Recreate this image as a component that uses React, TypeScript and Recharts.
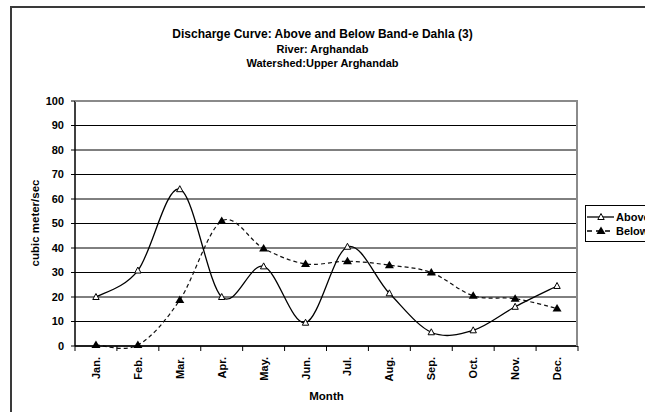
import React from 'react';
import { LineChart, Line, XAxis, YAxis, CartesianGrid } from 'recharts';

const months = ['Jan.', 'Feb.', 'Mar.', 'Apr.', 'May.', 'Jun.', 'Jul.', 'Aug.', 'Sep.', 'Oct.', 'Nov.', 'Dec.'];
const aboveValues = [20, 30.8, 64, 20, 32.5, 9.5, 40.5, 21.5, 5.6, 6.4, 16, 24.5];
const belowValues = [0.4, 0.4, 18.8, 51, 39.8, 33.5, 34.6, 33, 30, 20.5, 19.3, 15.3];
const yTicks = [0, 10, 20, 30, 40, 50, 60, 70, 80, 90, 100];

const data = months.map((month, i) => ({ month, above: aboveValues[i], below: belowValues[i] }));

const FONT = '"Liberation Sans", Arial, sans-serif';

// excel-style smoothing (bezier through points, 1/6 tangents)
const excelCurve = (context: any) => {
  let pts: number[][] = [];
  return {
    areaStart() {},
    areaEnd() {},
    lineStart() {
      pts = [];
    },
    point(x: number, y: number) {
      pts.push([+x, +y]);
    },
    lineEnd() {
      const n = pts.length;
      if (!n) return;
      context.moveTo(pts[0][0], pts[0][1]);
      for (let i = 0; i < n - 1; i++) {
        const p0 = pts[i - 1] || pts[i];
        const p1 = pts[i];
        const p2 = pts[i + 1];
        const p3 = pts[i + 2] || p2;
        context.bezierCurveTo(
          p1[0] + (p2[0] - p0[0]) / 6,
          p1[1] + (p2[1] - p0[1]) / 6,
          p2[0] - (p3[0] - p1[0]) / 6,
          p2[1] - (p3[1] - p1[1]) / 6,
          p2[0],
          p2[1]
        );
      }
    },
  };
};

const openTriangle = (props: any) => {
  const { cx, cy, index } = props;
  return (
    <path
      key={`a-${index}`}
      d={`M${cx},${cy - 3.5} L${cx + 3.2},${cy + 2.5} L${cx - 3.2},${cy + 2.5} Z`}
      fill="#fff"
      stroke="#000"
      strokeWidth={1}
    />
  );
};

const filledTriangle = (props: any) => {
  const { cx, cy, index } = props;
  return (
    <path
      key={`b-${index}`}
      d={`M${cx},${cy - 4.5} L${cx + 4.5},${cy + 3} L${cx - 4.5},${cy + 3} Z`}
      fill="#000"
    />
  );
};

const HALF_BAND = 503 / 24;

const MonthTick = (props: any) => {
  const { x, y, payload } = props;
  return (
    <g>
      <line x1={x + HALF_BAND} x2={x + HALF_BAND} y1={y - 11} y2={y - 6} stroke="#000" />
      {payload.index === 0 && <line x1={x - HALF_BAND} x2={x - HALF_BAND} y1={y - 11} y2={y - 6} stroke="#000" />}
      <text
        transform={`translate(${x},${y}) rotate(-90)`}
        textAnchor="end"
        dy="0.36em"
        fontSize={11}
        fontWeight="bold"
        fontFamily={FONT}
        fill="#000"
      >
        {payload.value}
      </text>
    </g>
  );
};

export default function App() {
  return (
    <div style={{ position: 'absolute', left: 0, top: 0, width: 645, height: 412, overflow: 'hidden', background: '#fff', fontFamily: FONT }}>
      <div style={{ position: 'absolute', left: 10, top: 6, width: 700, height: 500, border: '2px solid #3a3a3a', boxSizing: 'border-box' }} />

      <div style={{ position: 'absolute', left: 0, width: 645, top: 27, textAlign: 'center', fontWeight: 'bold', fontSize: 12, lineHeight: '14px' }}>
        <div style={{ paddingLeft: 0, position: 'relative', left: 0 }}>Discharge Curve: Above and Below Band-e Dahla (3)</div>
        <div style={{ fontSize: 11, lineHeight: '15px', marginTop: 1 }}>River: Arghandab</div>
        <div style={{ fontSize: 11, lineHeight: '13px' }}>Watershed:Upper Arghandab</div>
      </div>

      <LineChart width={645} height={412} data={data} margin={{ top: 101, right: 67, bottom: 16, left: 15 }} style={{ position: 'absolute', left: 0, top: 0 }}>
        <CartesianGrid vertical={false} stroke="#000" strokeWidth={1} />
        <XAxis
          dataKey="month"
          padding={{ left: HALF_BAND, right: HALF_BAND }}
          interval={0}
          height={50}
          axisLine={{ stroke: '#000', strokeWidth: 1.5 }}
          tickLine={false}
          tickSize={5}
          tickMargin={6}
          tick={<MonthTick />}
        />
        <YAxis
          domain={[0, 100]}
          ticks={yTicks}
          width={60}
          interval={0}
          axisLine={{ stroke: '#000', strokeWidth: 1.5 }}
          tickLine={{ stroke: '#000' }}
          tickSize={4}
          tickMargin={7}
          tick={{ fill: '#000', fontSize: 11, fontWeight: 'bold', fontFamily: FONT }}
        />
        <Line
          dataKey="below"
          type={excelCurve as any}
          stroke="#111"
          strokeWidth={1.2}
          strokeDasharray="4 3"
          dot={filledTriangle}
          activeDot={false}
          isAnimationActive={false}
        />
        <Line
          dataKey="above"
          type={excelCurve as any}
          stroke="#000"
          strokeWidth={1.3}
          dot={openTriangle}
          activeDot={false}
          isAnimationActive={false}
        />
      </LineChart>

      <div style={{ position: 'absolute', left: 75, top: 100, width: 503, height: 246, borderTop: '2px solid #8a8a8a', borderRight: '2px solid #8a8a8a', boxSizing: 'border-box', pointerEvents: 'none' }} />

      <div style={{ position: 'absolute', left: 35, top: 223, width: 0, height: 0 }}>
        <div style={{ position: 'absolute', transform: 'translate(-50%, -50%) rotate(-90deg)', whiteSpace: 'nowrap', fontWeight: 'bold', fontSize: 11.5 }}>
          cubic meter/sec
        </div>
      </div>

      <div style={{ position: 'absolute', left: 75, width: 503, top: 390, textAlign: 'center', fontWeight: 'bold', fontSize: 11.5 }}>Month</div>

      <div style={{ position: 'absolute', left: 585, top: 205, width: 90, height: 37, border: '1px solid #000', background: '#fff', boxSizing: 'border-box' }}>
        <div style={{ position: 'absolute', left: 1, top: 5, display: 'flex', alignItems: 'center', height: 12 }}>
          <svg width={28} height={12}>
            <line x1={0} x2={27} y1={6} y2={6} stroke="#000" strokeWidth={1.3} />
            <path d="M14,2.5 L17.2,8.5 L10.8,8.5 Z" fill="#fff" stroke="#000" />
          </svg>
          <span style={{ fontSize: 11, fontWeight: 'bold', marginLeft: 1 }}>Above</span>
        </div>
        <div style={{ position: 'absolute', left: 1, top: 19, display: 'flex', alignItems: 'center', height: 12 }}>
          <svg width={28} height={12}>
            <line x1={0} x2={27} y1={6} y2={6} stroke="#000" strokeWidth={1.3} strokeDasharray="5 4" />
            <path d="M14,1.5 L18.5,9 L9.5,9 Z" fill="#000" />
          </svg>
          <span style={{ fontSize: 11, fontWeight: 'bold', marginLeft: 1 }}>Below</span>
        </div>
      </div>
    </div>
  );
}
